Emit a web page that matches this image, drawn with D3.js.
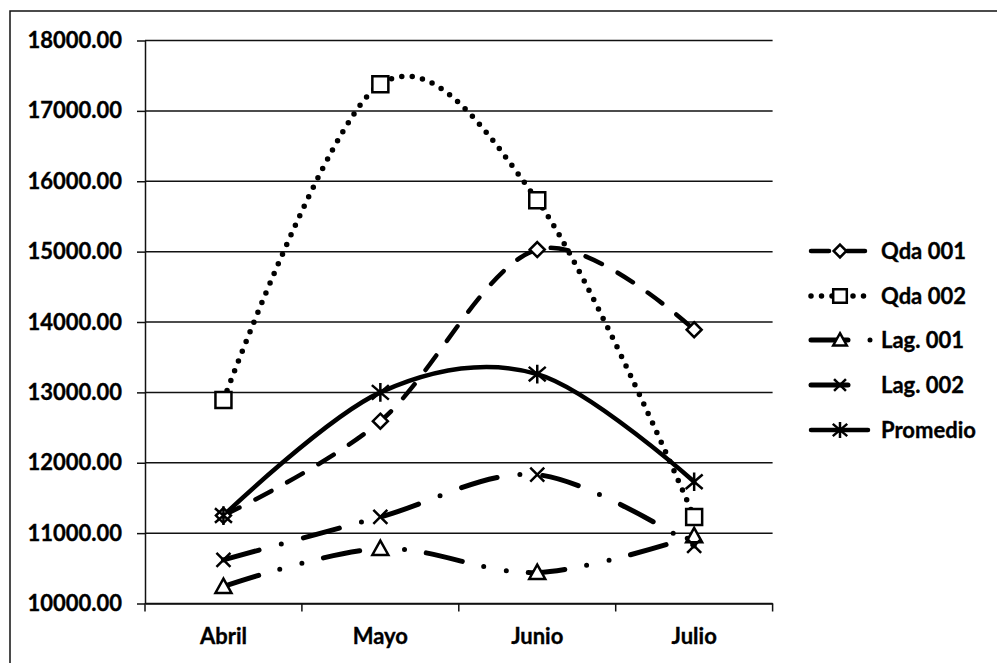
<!DOCTYPE html>
<html>
<head>
<meta charset="utf-8">
<script src="https://cdn.jsdelivr.net/npm/d3@7"></script>
<style>
  html, body { margin: 0; padding: 0; background: #fff; }
  svg { display: block; }
  text { font-family: Lato, "Open Sans", sans-serif; font-weight: 700; fill: #000; stroke: #000; stroke-width: 0.35px; }
</style>
</head>
<body>
<svg id="chart" width="997" height="663"></svg>
<script>
// Monthly values per sampling point
const months   = ["Abril", "Mayo", "Junio", "Julio"];
const qda001   = [11250, 12590, 15030, 13890];
const qda002   = [12890, 17380, 15730, 11230];
const lag001   = [10240, 10780, 10440, 10960];
const lag002   = [10620, 11230, 11830, 10820];
const promedio = [11250, 13000, 13260, 11730];
const seriesNames = ["Qda 001", "Qda 002", "Lag. 001", "Lag. 002", "Promedio"];
const yTicks = [10000, 11000, 12000, 13000, 14000, 15000, 16000, 17000, 18000];

const svg = d3.select("#chart");

// outer frame (top and left edges)
svg.append("path")
  .attr("d", "M10,663 V11 H997")
  .attr("fill", "none").attr("stroke", "#111").attr("stroke-width", 1.5);

const plot = { left: 145, right: 772.6, top: 40.5, bottom: 603.5 };

const x = d3.scaleBand().domain(months).range([plot.left, plot.right]).padding(0);
const cx = m => x(m) + x.bandwidth() / 2;
const y = d3.scaleLinear().domain([10000, 18000]).range([plot.bottom, plot.top]);

// horizontal gridlines
svg.append("g").selectAll("line").data(yTicks).join("line")
  .attr("x1", plot.left).attr("x2", plot.right)
  .attr("y1", d => y(d)).attr("y2", d => y(d))
  .attr("stroke", "#111").attr("stroke-width", 1.5);

// y axis
const yAxis = d3.axisLeft(y).tickValues(yTicks).tickFormat(d3.format(".2f"))
  .tickSizeInner(8).tickSizeOuter(0).tickPadding(15);
const gy = svg.append("g").attr("transform", `translate(${plot.left},0)`).call(yAxis);
gy.select(".domain").attr("stroke", "#111").attr("stroke-width", 1.5);
gy.selectAll(".tick line").attr("stroke", "#111").attr("stroke-width", 1.5);
gy.selectAll(".tick text").style("font-size", "22px").attr("fill", "#000");

// x axis: ticks between categories
const xAxis = d3.axisBottom(x).tickSize(0).tickPadding(25);
const gx = svg.append("g").attr("transform", `translate(0,${plot.bottom})`).call(xAxis);
gx.select(".domain").attr("stroke", "#111").attr("stroke-width", 1.5);
gx.selectAll(".tick text").style("font-size", "22px").attr("fill", "#000");
const bounds = months.map(m => x(m)).concat([x(months[months.length - 1]) + x.bandwidth()]);
svg.append("g").selectAll("line").data(bounds).join("line")
  .attr("x1", d => d).attr("x2", d => d)
  .attr("y1", plot.bottom).attr("y2", plot.bottom + 8)
  .attr("stroke", "#111").attr("stroke-width", 1.5);

// marker shapes
const markerPath = {
  diamond: s => `M0,${-s}L${s},0L0,${s}L${-s},0Z`,
  square: s => `M${-s},${-s}H${s}V${s}H${-s}Z`,
  triangle: s => `M0,${-s}L${s},${s * 0.8}L${-s},${s * 0.8}Z`,
  cross: s => `M${-s},${-s}L${s},${s}M${s},${-s}L${-s},${s}`,
  star: s => `M${-s},${-s * 0.85}L${s},${s * 0.85}M${s},${-s * 0.85}L${-s},${s * 0.85}M0,${-s * 1.1}V${s * 1.1}`
};

const series = [
  { name: seriesNames[0], values: qda001, dash: "18 18", width: 4.5, marker: "diamond", msize: 7.5 },
  { name: seriesNames[1], values: qda002, dash: "0 10.5", width: 5.5, marker: "square", msize: 8 },
  { name: seriesNames[2], values: lag001, dash: "37 22 0 23 0 22", width: 5, marker: "triangle", msize: 8 },
  { name: seriesNames[3], values: lag002, dash: "37 23 0 23", width: 5, marker: "cross", msize: 7 },
  { name: seriesNames[4], values: promedio, dash: null, width: 4.5, marker: "star", msize: 8.5 }
];

const line = d3.line()
  .x((d, i) => cx(months[i]))
  .y(d => y(d))
  .curve(d3.curveCardinal.tension(0));

series.forEach(s => {
  svg.append("path")
    .attr("d", line(s.values))
    .attr("fill", "none")
    .attr("stroke", "#000")
    .attr("stroke-width", s.width)
    .attr("stroke-linecap", "round")
    .attr("stroke-linejoin", "round")
    .attr("stroke-dasharray", s.dash);
});

series.forEach(s => {
  svg.append("g").selectAll("path").data(s.values).join("path")
    .attr("transform", (d, i) => `translate(${cx(months[i])},${y(d)})`)
    .attr("d", markerPath[s.marker](s.msize))
    .attr("fill", "#fff")
    .attr("stroke", "#000")
    .attr("stroke-width", 2.5);
});

// legend
const legend = svg.append("g");
const legendY = [251, 296, 340, 385, 430];
series.forEach((s, i) => {
  const g = legend.append("g").attr("transform", `translate(0,${legendY[i]})`);
  const x2 = (s.marker === "triangle" || s.marker === "cross") ? 871 : 868;
  g.append("line")
    .attr("x1", 811).attr("x2", x2).attr("y1", 0).attr("y2", 0)
    .attr("stroke", "#000").attr("stroke-width", s.width)
    .attr("stroke-linecap", "round")
    .attr("stroke-dasharray", s.dash);
  g.append("path")
    .attr("transform", "translate(840,0)")
    .attr("d", markerPath[s.marker](s.msize * 0.85))
    .attr("fill", "#fff").attr("stroke", "#000").attr("stroke-width", 2.5);
  g.append("text")
    .attr("x", 881).attr("y", 0).attr("dy", "0.35em")
    .style("font-size", "22px")
    .text(s.name);
});
</script>
</body>
</html>
